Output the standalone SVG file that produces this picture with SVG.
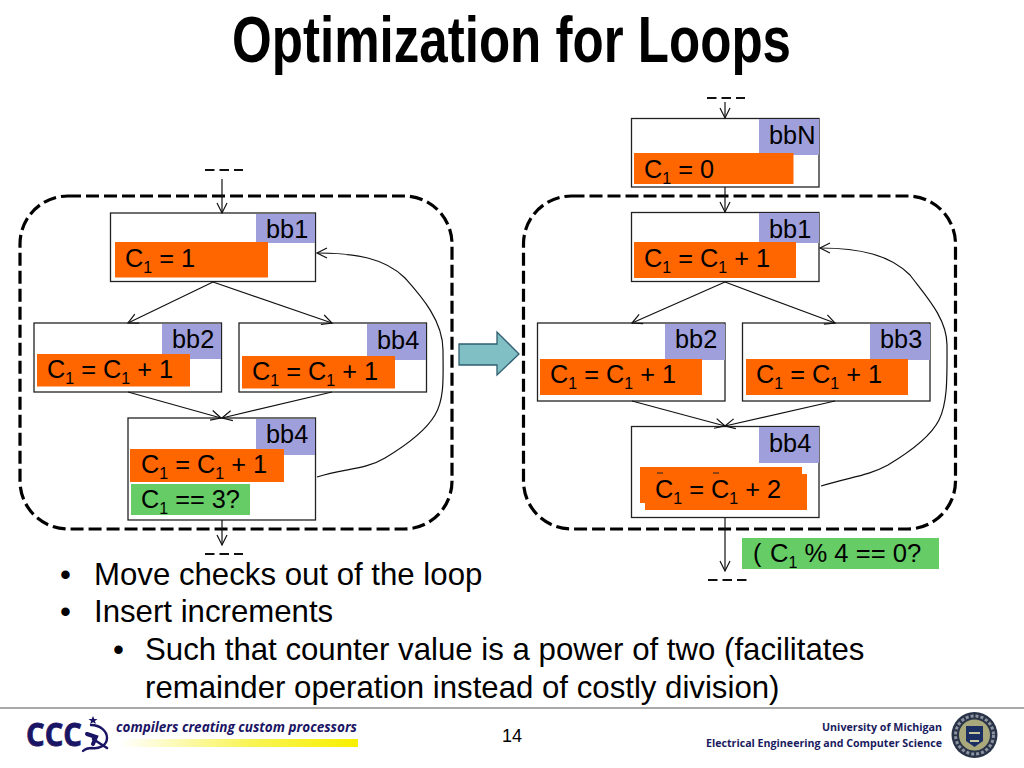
<svg xmlns="http://www.w3.org/2000/svg" width="1024" height="768" viewBox="0 0 1024 768">
<style>
text{font-family:"Liberation Sans",Arial,sans-serif;fill:#000}
.box{fill:#fff;stroke:#222;stroke-width:1.3}
.lab{fill:#9f9fdb}
.or{fill:#ff6600}
.gr{fill:#66cc66}
.t{font-size:25.300px}
.s{font-size:16px}
.body{font-size:31.200px}
.loop{fill:none;stroke:#000;stroke-width:3.2;stroke-dasharray:13 5}
.dash{stroke:#111;stroke-width:2;stroke-dasharray:9.5 5;fill:none}
.c{fill:none;stroke:#111;stroke-width:1.2}
.a{marker-end:url(#open)}
.foot{font-family:"Open Sans","Liberation Sans",sans-serif;font-weight:700;font-size:11px;fill:#1a1a5e}
</style>
<defs>
<marker id="open" markerUnits="userSpaceOnUse" markerWidth="14" markerHeight="14" refX="12" refY="7" orient="auto">
<path d="M2,2 L12,7 L2,12" fill="none" stroke="#111" stroke-width="1.2"/>
</marker>
<linearGradient id="bar" x1="0" x2="1" y1="0" y2="0"><stop offset="0" stop-color="#fff"/><stop offset="0.55" stop-color="#f8f455"/><stop offset="1" stop-color="#f8f000"/></linearGradient>
</defs>
<rect width="1024" height="768" fill="#fff"/>
<text id="title" x="232" y="62" font-size="64" font-weight="700" textLength="559" lengthAdjust="spacingAndGlyphs">Optimization for Loops</text>

<g id="loop-left"><rect class="loop" x="20" y="196" width="432" height="333" rx="48"/></g>
<g id="loop-right"><rect class="loop" x="523.500" y="196" width="432" height="333" rx="48"/></g>

<g id="left-bb1"><rect class="box" x="110.500" y="213" width="205" height="68.500"/><rect class="lab" x="256" y="214" width="59" height="29"/><rect class="or" x="115" y="242" width="153" height="35.500"/>
<text class="t" x="266" y="238">bb1</text><text class="t" x="125" y="266.500">C<tspan class="s" dy="6">1</tspan><tspan dy="-6"> = 1</tspan></text></g>
<g id="left-bb2"><rect class="box" x="34" y="323" width="187.500" height="69"/><rect class="lab" x="162" y="324" width="59" height="35"/><rect class="or" x="37" y="354" width="153" height="32.500"/>
<text class="t" x="172" y="348">bb2</text><text class="t" x="47" y="378">C<tspan class="s" dy="6">1</tspan><tspan dy="-6"> = C</tspan><tspan class="s" dy="6">1</tspan><tspan dy="-6"> + 1</tspan></text></g>
<g id="left-bb4a"><rect class="box" x="239" y="323" width="187.500" height="69"/><rect class="lab" x="367" y="324" width="59" height="36"/><rect class="or" x="242" y="356" width="153" height="32.500"/>
<text class="t" x="377" y="349">bb4</text><text class="t" x="252" y="380">C<tspan class="s" dy="6">1</tspan><tspan dy="-6"> = C</tspan><tspan class="s" dy="6">1</tspan><tspan dy="-6"> + 1</tspan></text></g>
<g id="left-bb4b"><rect class="box" x="128" y="418" width="187.500" height="102"/><rect class="lab" x="256" y="419" width="59" height="36"/><rect class="or" x="130" y="449" width="154" height="33"/><rect class="gr" x="131" y="484" width="119" height="31"/>
<text class="t" x="266" y="443">bb4</text><text class="t" x="141" y="473">C<tspan class="s" dy="6">1</tspan><tspan dy="-6"> = C</tspan><tspan class="s" dy="6">1</tspan><tspan dy="-6"> + 1</tspan></text>
<text class="t" x="141" y="508">C<tspan class="s" dy="6">1</tspan><tspan dy="-6"> == 3?</tspan></text></g>

<g id="right-bbN"><rect class="box" x="631.500" y="118.500" width="187.500" height="68.500"/><rect class="lab" x="759" y="119" width="60" height="36"/><rect class="or" x="634" y="153" width="159.500" height="31"/>
<text class="t" x="769" y="144">bbN</text><text class="t" x="644" y="178">C<tspan class="s" dy="6">1</tspan><tspan dy="-6"> = 0</tspan></text></g>
<g id="right-bb1"><rect class="box" x="631.500" y="212.500" width="187.500" height="69"/><rect class="lab" x="759" y="213" width="60" height="30"/><rect class="or" x="634" y="242" width="162" height="36"/>
<text class="t" x="769" y="238">bb1</text><text class="t" x="644" y="267">C<tspan class="s" dy="6">1</tspan><tspan dy="-6"> = C</tspan><tspan class="s" dy="6">1</tspan><tspan dy="-6"> + 1</tspan></text></g>
<g id="right-bb2"><rect class="box" x="537.500" y="323" width="187.500" height="78"/><rect class="lab" x="665" y="324" width="60" height="36"/><rect class="or" x="540" y="359" width="162" height="36"/>
<text class="t" x="675" y="348">bb2</text><text class="t" x="550" y="383">C<tspan class="s" dy="6">1</tspan><tspan dy="-6"> = C</tspan><tspan class="s" dy="6">1</tspan><tspan dy="-6"> + 1</tspan></text></g>
<g id="right-bb3"><rect class="box" x="742.500" y="323" width="187.500" height="78"/><rect class="lab" x="870" y="324" width="60" height="36"/><rect class="or" x="746" y="359" width="162" height="36"/>
<text class="t" x="880" y="348">bb3</text><text class="t" x="756" y="383">C<tspan class="s" dy="6">1</tspan><tspan dy="-6"> = C</tspan><tspan class="s" dy="6">1</tspan><tspan dy="-6"> + 1</tspan></text></g>
<g id="right-bb4"><rect class="box" x="631.500" y="426.500" width="187.500" height="91"/><rect class="lab" x="759" y="427" width="60" height="36"/><rect class="or" x="640" y="467" width="162" height="36"/><rect class="or" x="645" y="474" width="162" height="36"/>
<path d="M657,473h6M713,473h6" stroke="#222" stroke-width="1"/>
<text class="t" x="655" y="498">C<tspan class="s" dy="6">1</tspan><tspan dy="-6"> = C</tspan><tspan class="s" dy="6">1</tspan><tspan dy="-6"> + 2</tspan></text><text class="t" x="769" y="452">bb4</text></g>
<g id="right-check"><rect class="gr" x="742" y="538" width="197" height="31"/>
<text class="t" x="753" y="562">(</text><text class="t" x="770" y="562" style="font-size:25.6px">C<tspan class="s" dy="6">1</tspan><tspan dy="-6"> % 4 == 0?</tspan></text></g>

<g id="connectors">
<path class="dash" d="M205,170H243M205,554H243M707,98H745M708,580H747"/>
<path class="c a" d="M222,179V213"/>
<path class="c a" d="M213,282L128,323"/>
<path class="c a" d="M213,282L332,323"/>
<path class="c a" d="M128,392L221,418"/>
<path class="c a" d="M332,392L222,418"/>
<path class="c a" d="M222,520V545"/>
<path class="c a" d="M317,477C345,468 365,470 385,458C405,446 425,432 435,415C445,398 443,375 443,350C443,320 420,295 405,278C385,258 355,253 317,253"/>
<path class="c a" d="M725,102V118"/>
<path class="c a" d="M725,187V212"/>
<path class="c a" d="M725,282L632,323"/>
<path class="c a" d="M725,282L835,323"/>
<path class="c a" d="M632,401L725,426"/>
<path class="c a" d="M835,401L725,426"/>
<path class="c a" d="M725,518V571"/>
<path class="c a" d="M821,486C850,477 868,476 888,465C908,453 930,438 939,420C948,402 947,375 947,345C947,318 925,295 910,275C890,255 860,248 820,248"/>
</g>

<g id="transform-arrow"><path d="M459,344H497V332L519,354L497,375V365H459Z" fill="#80bfc4" stroke="#2f5f70" stroke-width="1.300"/></g>

<g id="bullets">
<text class="body" x="60" y="585">•</text><text class="body" x="94" y="585">Move checks out of the loop</text>
<text class="body" x="60" y="622">•</text><text class="body" x="94" y="622">Insert increments</text>
<text class="body" x="113" y="660">•</text><text class="body" x="145" y="660">Such that counter value is a power of two (facilitates</text>
<text class="body" x="145" y="698">remainder operation instead of costly division)</text>
</g>

<g id="footer">
<path d="M0,708H1024" stroke="#555" stroke-width="1.200"/>
<text x="26" y="746" font-size="33" font-weight="700" style="fill:#1a1464;font-family:'Open Sans','Liberation Sans',sans-serif;stroke:#1a1464;stroke-width:0.8" textLength="56" lengthAdjust="spacingAndGlyphs">CCC</text>
<g id="emblem" fill="none" stroke="#1a1464" stroke-linecap="round">
<path d="M91,725C100,725 107,731 107,738C107,746 98,749 92,748C88,748 85,749 83,751" stroke-width="2.400"/>
<path d="M93,739L107,748" stroke-width="2.600"/>
<path d="M87,734L96,737L93,744" stroke-width="4"/>
<path d="M93,716l1.300,3h3.200l-2.600,2l1,3l-2.900,-1.800l-2.900,1.800l1,-3l-2.600,-2h3.200z" fill="#1a1464" stroke="none"/>
</g>
<text x="116" y="732" font-size="14" font-weight="700" font-style="italic" style="fill:#1a1464;font-family:'Open Sans','Liberation Sans',sans-serif" textLength="241" lengthAdjust="spacingAndGlyphs">compilers creating custom processors</text>
<rect x="120" y="739" width="238" height="8" fill="url(#bar)"/>
<text x="502" y="742" font-size="18">14</text>
<text class="foot" x="942" y="731" text-anchor="end" textLength="120" lengthAdjust="spacingAndGlyphs">University of Michigan</text>
<text class="foot" x="942" y="747" text-anchor="end" textLength="236" lengthAdjust="spacingAndGlyphs">Electrical Engineering and Computer Science</text>
<g id="seal"><circle cx="974.500" cy="735" r="23" fill="#2a3448"/><circle cx="974.500" cy="735" r="19" fill="none" stroke="#8d93a0" stroke-width="3" stroke-dasharray="3 2"/><circle cx="974.500" cy="735" r="15.500" fill="#a9a97c"/><path d="M966,726H983V741L974.500,747L966,741Z" fill="#1c2f63"/><path d="M969,733H980M970,741H979" stroke="#c8c8a0" stroke-width="2"/></g>
</g>
</svg>
